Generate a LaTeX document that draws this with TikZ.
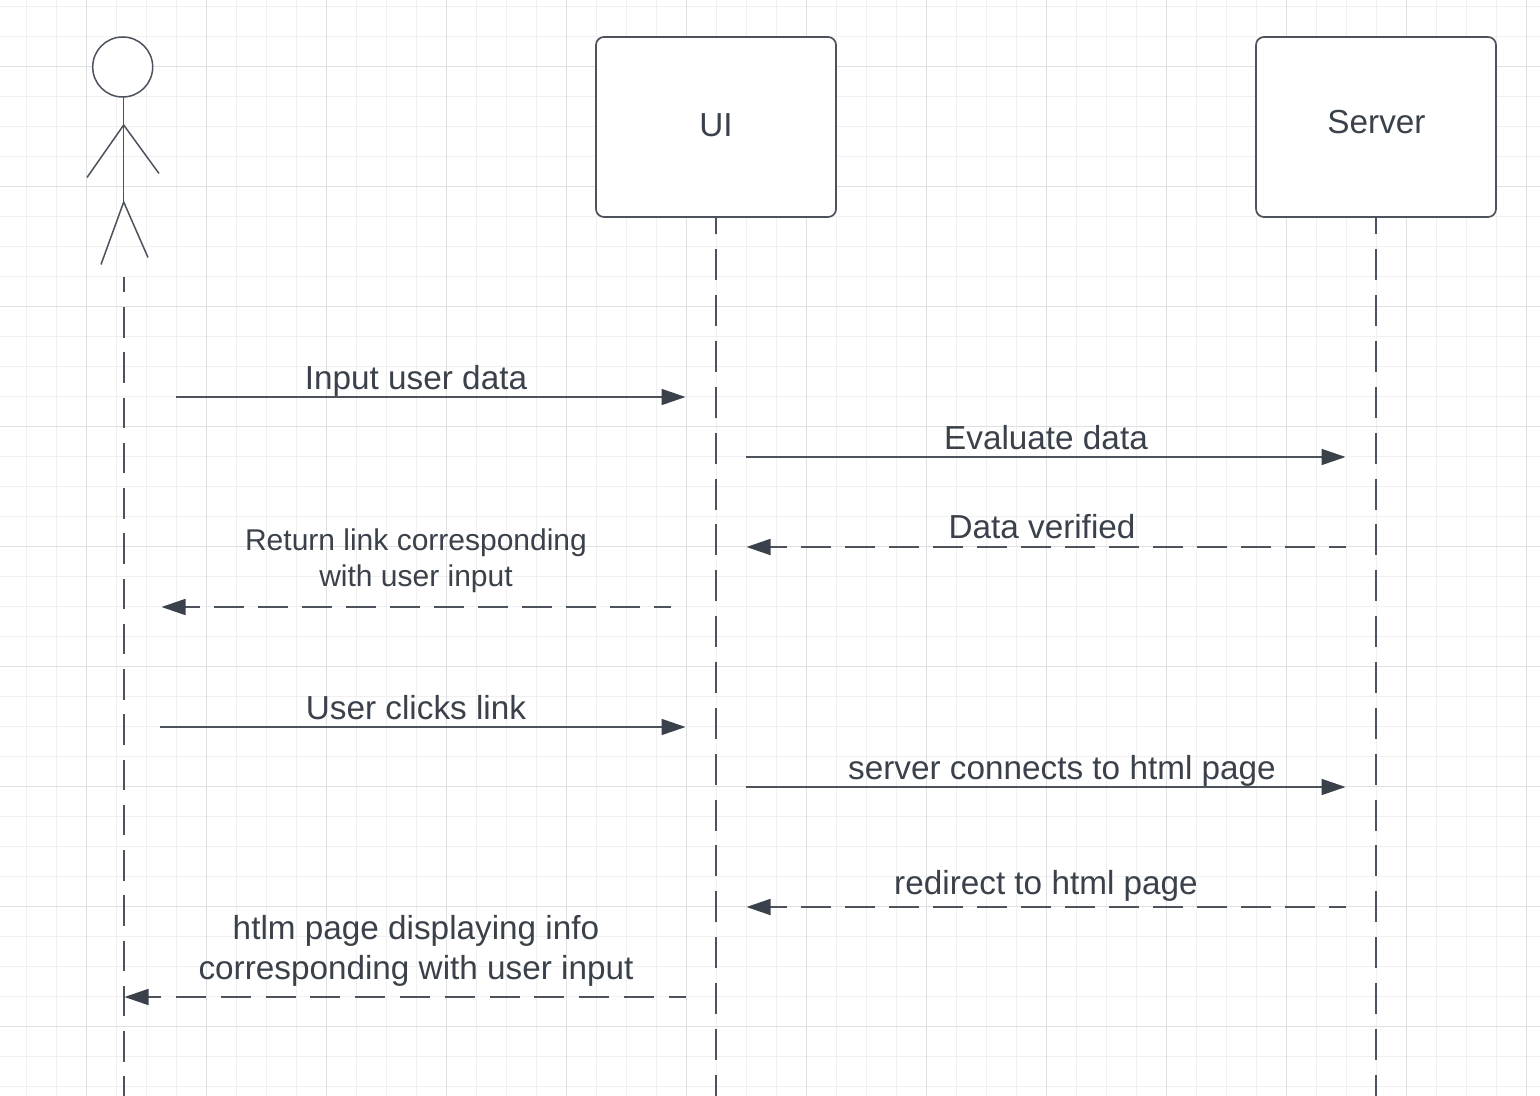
\documentclass[tikz,border=0pt]{standalone}
\usepackage{fontspec}
\setmainfont{Liberation Sans}
\usetikzlibrary{arrows.meta}

\definecolor{inkline}{HTML}{4C535D}
\definecolor{inktext}{HTML}{3A414A}
\definecolor{gridmajor}{HTML}{DFE0E2}
\definecolor{gridminor}{HTML}{F0F0F1}

\tikzset{
  actorline/.style={draw=inkline,line width=0.75pt},
  lifeline/.style={draw=inkline,line width=0.9pt,dash pattern=on 15.5pt off 7.43pt},
  callmsg/.style={draw=inkline,line width=0.85pt,-{Triangle[length=12pt,width=8pt,color=inktext]}},
  replymsg/.style={callmsg,dash pattern=on 15pt off 7pt},
  partbox/.style={draw=inkline,line width=0.85pt,fill=white,rounded corners=4pt,minimum width=120pt,minimum height=90pt,inner sep=0pt},
  parttext/.style={text=inktext,font=\fontsize{16.65}{20}\selectfont,inner sep=0pt},
  msgtext/.style={text=inktext,font=\fontsize{16.65}{20}\selectfont,inner sep=0pt,anchor=base,align=center},
  smalltext/.style={text=inktext,font=\fontsize{15}{18}\selectfont,inner sep=0pt,anchor=base,align=center}
}

\begin{document}
\begin{tikzpicture}[x=0.5pt,y=-0.5pt]
\useasboundingbox (0,0) rectangle (1540,1096);
\fill[white] (0,0) rectangle (1540,1096);

% grid
\foreach \x in {26.5,56.5,...,1530}
\draw[gridminor,line width=0.6pt] (\x,0) -- (\x,1096);
\foreach \y in {6.5,36.5,...,1096}
\draw[gridminor,line width=0.6pt] (0,\y) -- (1540,\y);
\foreach \x in {86.5,206.5,...,1530}
\draw[gridmajor,line width=0.6pt] (\x,0) -- (\x,1096);
\foreach \y in {66.5,186.5,...,1096}
\draw[gridmajor,line width=0.6pt] (0,\y) -- (1540,\y);

% actor
\node[circle,actorline,fill=white,minimum size=30pt,inner sep=0pt] (head) at (122.7,67) {};
\coordinate (neck) at (123.3,97);
\coordinate (shoulder) at (123.7,125);
\coordinate (hip) at (123.7,202);
\coordinate (lefthand) at (87,177.5);
\coordinate (righthand) at (159,173.5);
\coordinate (leftfoot) at (101,264.5);
\coordinate (rightfoot) at (148,257.5);
\draw[actorline] (neck) -- (123.3,202);
\draw[actorline] (lefthand) -- (shoulder) -- (righthand);
\draw[actorline] (leftfoot) -- (hip) -- (rightfoot);

% boxes
\node[partbox] (ui) at (716,127) {};
\node[partbox] (server) at (1376,127) {};
\node[parttext] (uilabel) at (716,125) {UI};
\node[parttext] (serverlabel) at (1376.5,122) {Server};

% lifelines
\coordinate (actortop) at (124,277);
\coordinate (actorend) at (124,1096);
\coordinate (uiend) at (716,1096);
\coordinate (serverend) at (1376,1096);
\draw[lifeline,dash pattern=on 15.25pt off 7.37pt,dash phase=7.5pt] (actortop) -- (actorend);
\draw[lifeline,dash phase=7.25pt] (ui.south) -- (uiend);
\draw[lifeline,dash phase=7.25pt] (server.south) -- (serverend);

% messages
\coordinate (a1) at (176,397);   \coordinate (b1) at (685.5,397);
\coordinate (a2) at (746,457);   \coordinate (b2) at (1345.5,457);
\coordinate (a3) at (1346,547);  \coordinate (b3) at (746.5,547);
\coordinate (a4) at (671,607);   \coordinate (b4) at (161.5,607);
\coordinate (a5) at (160,727);   \coordinate (b5) at (685.5,727);
\coordinate (a6) at (746,787);   \coordinate (b6) at (1345.5,787);
\coordinate (a7) at (1346,907);  \coordinate (b7) at (746.5,907);
\coordinate (a8) at (686,997);   \coordinate (b8) at (124.5,997);
\draw[callmsg] (a1) -- (b1);
\draw[callmsg] (a2) -- (b2);
\draw[replymsg,dash phase=6.5pt] (a3) -- (b3);
\draw[replymsg,dash phase=6.5pt] (a4) -- (b4);
\draw[callmsg] (a5) -- (b5);
\draw[callmsg] (a6) -- (b6);
\draw[replymsg,dash phase=6.5pt] (a7) -- (b7);
\draw[replymsg,dash pattern=on 15pt off 7.4pt,dash phase=6.4pt] (a8) -- (b8);

% labels
\node[msgtext] (inputlabel) at (416,389) {Input user data};
\node[msgtext] (evallabel) at (1046,449) {Evaluate data};
\node[msgtext] (verifiedlabel) at (1042,538) {Data verified};
\node[smalltext] (returnlabel) at (416,586) {Return link corresponding\\with user input};
\node[msgtext] (clickslabel) at (416,719) {User clicks link};
\node[msgtext] (connectslabel) at (1062,779) {server connects to html page};
\node[msgtext] (redirectlabel) at (1046,894) {redirect to html page};
\node[msgtext] (htmllabel) at (416,979) {htlm page displaying info\\corresponding with user input};
\end{tikzpicture}
\end{document}
